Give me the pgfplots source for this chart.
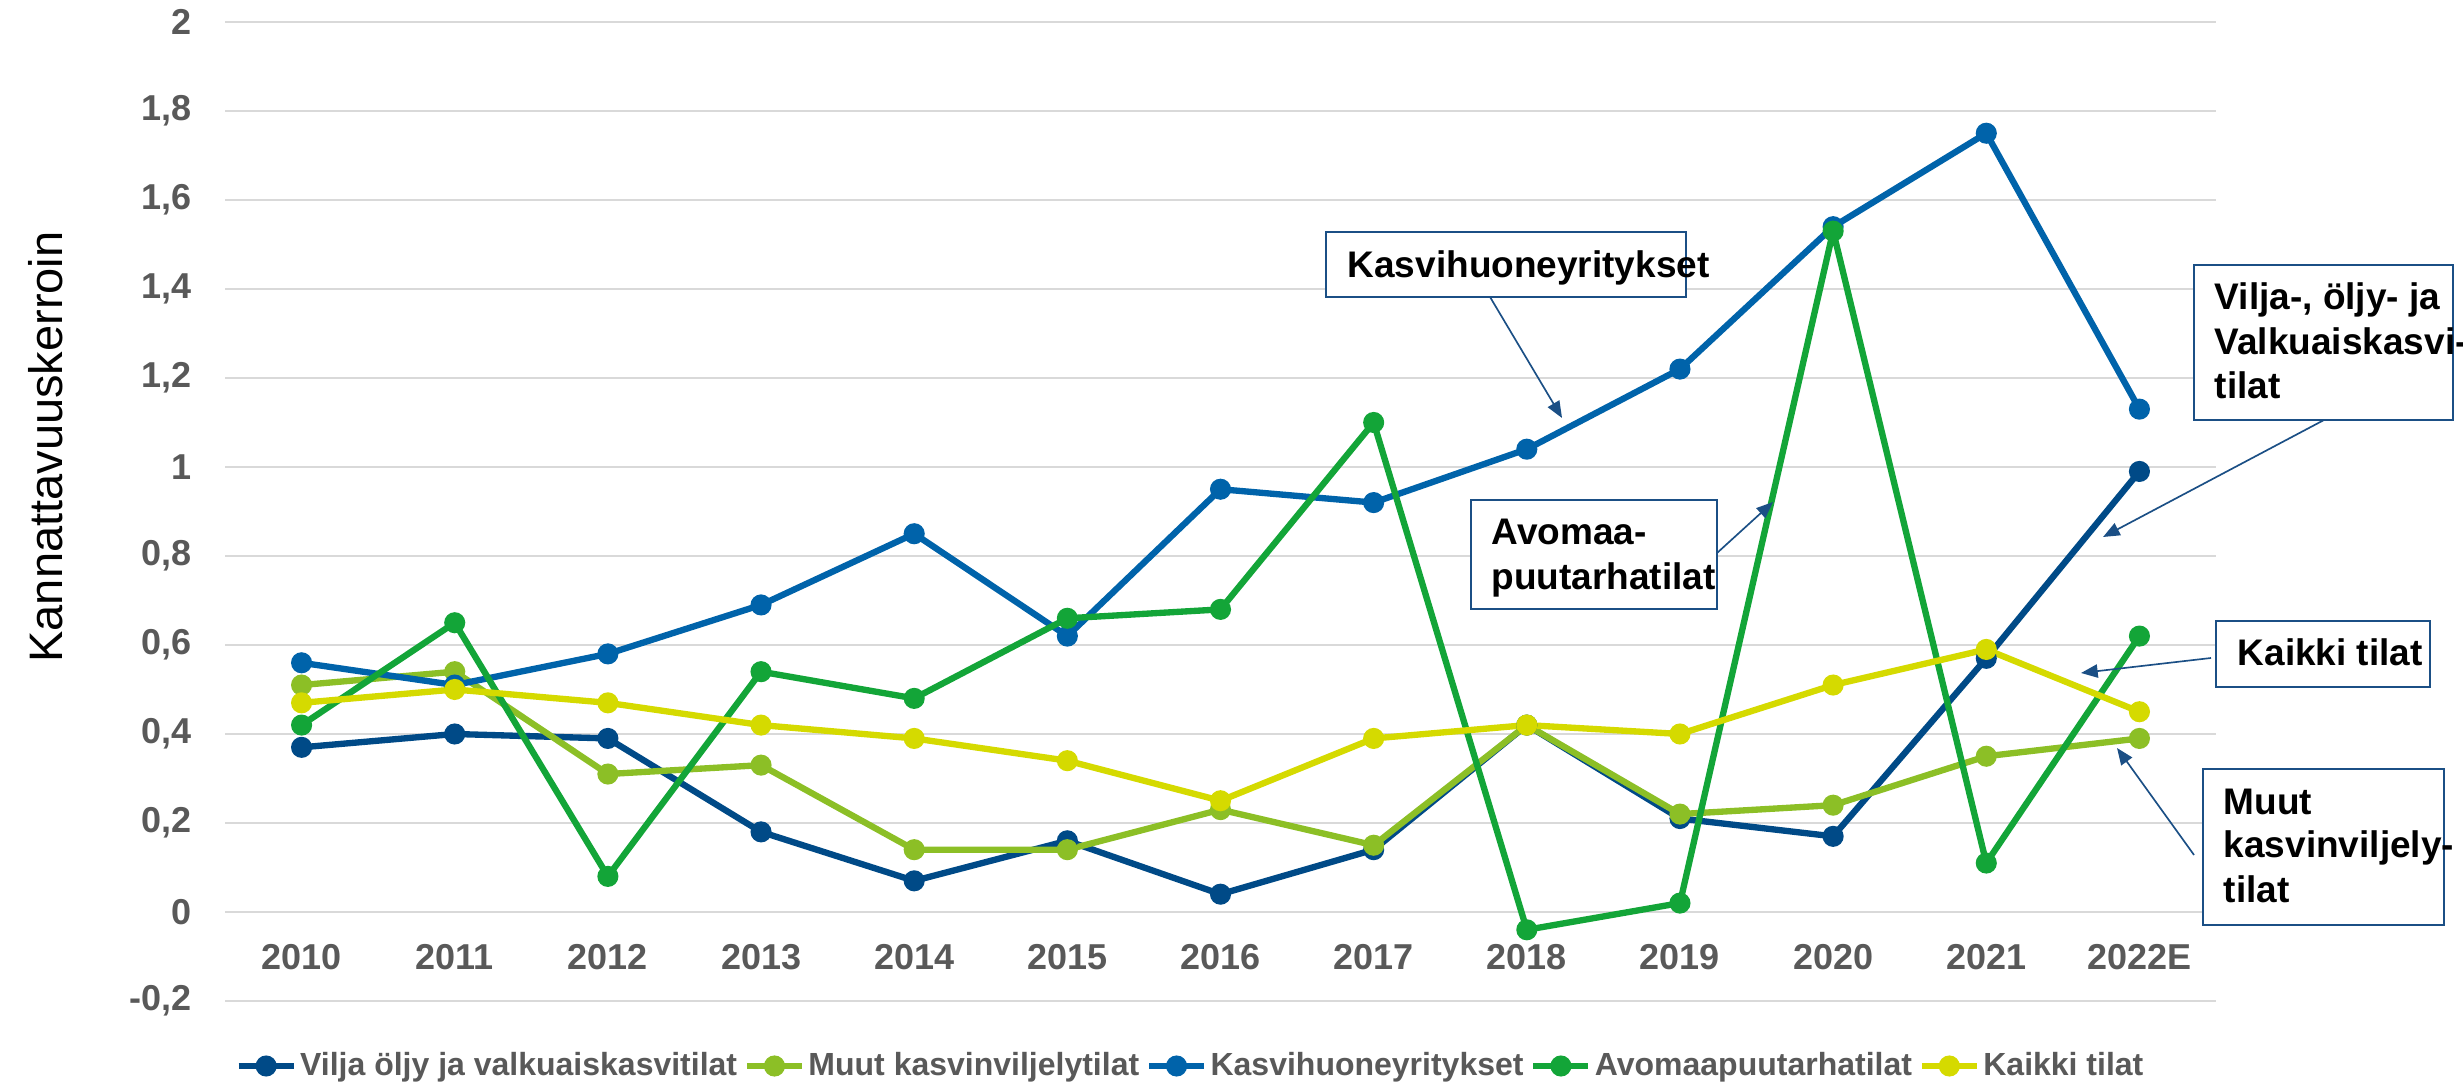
\documentclass[border=0pt]{standalone}
\usepackage{fontspec}
\setmainfont{Liberation Sans}
\usepackage{pgfplots}
\pgfplotsset{compat=1.18}
\usetikzlibrary{arrows.meta}
\definecolor{cVilja}{HTML}{004A87}
\definecolor{cMuut}{HTML}{8CBF26}
\definecolor{cKasvi}{HTML}{0063AA}
\definecolor{cAvo}{HTML}{13A538}
\definecolor{cKaikki}{HTML}{D5DA00}
\definecolor{txtgray}{HTML}{595959}
\definecolor{gridgray}{HTML}{D9D9D9}
\definecolor{boxblue}{HTML}{1B4F85}
\newcommand{\annfont}{\fontsize{11.1}{13.5}\selectfont\bfseries}
\begin{document}
\begin{tikzpicture}
\useasboundingbox (0,0) rectangle (738.9pt,325.8pt);
\begin{axis}[
  at={(67.5pt,25.5pt)}, anchor=south west,
  scale only axis, width=597.3pt, height=293.7pt,
  xmin=-0.5, xmax=12.5, ymin=-0.2, ymax=2,
  xtick={0,1,2,3,4,5,6,7,8,9,10,11,12},
  xticklabels={2010,2011,2012,2013,2014,2015,2016,2017,2018,2019,2020,2021,2022E},
  ytick={-0.2,0,0.2,0.4,0.6,0.8,1,1.2,1.4,1.6,1.8,2},
  yticklabels={{-0,2},{0},{0,2},{0,4},{0,6},{0,8},{1},{1,2},{1,4},{1,6},{1,8},{2}},
  ymajorgrids, grid style={gridgray, line width=0.6pt},
  axis line style={draw=none},
  major tick length=0pt,
  tick label style={font=\fontsize{10.8}{12}\selectfont\bfseries, text=txtgray},
  yticklabel style={anchor=east, inner sep=0pt, xshift=-9.9pt},
  xticklabel style={anchor=center, inner sep=0pt, yshift=13.2pt},
  legend style={at={(0.4844,-0.0664)}, anchor=center, draw=none, fill=none,
    legend columns=5, font=\fontsize{9.6}{11}\selectfont\bfseries, text=txtgray,
    nodes={inner sep=0pt},
    /tikz/every even column/.append style={column sep=2pt},
    /tikz/every odd column/.append style={column sep=1pt}},
  legend image code/.code={\draw[mark repeat=2,mark phase=2,#1] plot coordinates {(0pt,0pt) (8.25pt,0pt) (16.5pt,0pt)};},
  every axis plot/.append style={line width=1.9pt, mark=*, mark size=2.2pt, mark options={solid, line width=0.3pt}},
]
\addplot[cVilja, mark options={fill=cVilja}] coordinates {
(0,0.37) (1,0.40) (2,0.39) (3,0.18) (4,0.07) (5,0.16) (6,0.04) (7,0.14) (8,0.42) (9,0.21) (10,0.17) (11,0.57) (12,0.99)};
\addlegendentry{Vilja öljy ja valkuaiskasvitilat}
\addplot[cMuut, mark options={fill=cMuut}] coordinates {
(0,0.51) (1,0.54) (2,0.31) (3,0.33) (4,0.14) (5,0.14) (6,0.23) (7,0.15) (8,0.42) (9,0.22) (10,0.24) (11,0.35) (12,0.39)};
\addlegendentry{Muut kasvinviljelytilat}
\addplot[cKasvi, mark options={fill=cKasvi}] coordinates {
(0,0.56) (1,0.51) (2,0.58) (3,0.69) (4,0.85) (5,0.62) (6,0.95) (7,0.92) (8,1.04) (9,1.22) (10,1.54) (11,1.75) (12,1.13)};
\addlegendentry{Kasvihuoneyritykset}
\addplot[cAvo, mark options={fill=cAvo}] coordinates {
(0,0.42) (1,0.65) (2,0.08) (3,0.54) (4,0.48) (5,0.66) (6,0.68) (7,1.10) (8,-0.04) (9,0.02) (10,1.53) (11,0.11) (12,0.62)};
\addlegendentry{Avomaapuutarhatilat}
\addplot[cKaikki, mark options={fill=cKaikki}] coordinates {
(0,0.47) (1,0.50) (2,0.47) (3,0.42) (4,0.39) (5,0.34) (6,0.25) (7,0.39) (8,0.42) (9,0.40) (10,0.51) (11,0.59) (12,0.45)};
\addlegendentry{Kaikki tilat}
\end{axis}
\begin{scope}[shift={(0pt,325.8pt)}, x=0.3pt, y=-0.3pt]
  \node[rotate=90, font=\fontsize{14.1}{16}\selectfont] at (46,447) {Kannattavuuskerroin};
  % Kasvihuoneyritykset
  \draw[boxblue, line width=0.75pt, fill=white] (1326,232) rectangle (1686,297);
  \node[anchor=base west, inner sep=0pt, font=\annfont] at (1347,278) {Kasvihuoneyritykset};
  \draw[boxblue, line width=0.5pt, -{Triangle[length=5pt,width=4pt]}] (1490,297) -- (1562,418);
  % Avomaa
  \draw[boxblue, line width=0.75pt, fill=white] (1471,500) rectangle (1717,609);
  \node[anchor=base west, inner sep=0pt, font=\annfont] at (1491,545) {Avomaa-};
  \node[anchor=base west, inner sep=0pt, font=\annfont] at (1491,590) {puutarhatilat};
  \draw[boxblue, line width=0.5pt, -{Triangle[length=5pt,width=4pt]}] (1717,553) -- (1773,502);
  % Vilja
  \draw[boxblue, line width=0.75pt, fill=white] (2194,265) rectangle (2453,420);
  \node[anchor=base west, inner sep=0pt, font=\annfont] at (2214,310) {Vilja-, öljy- ja};
  \node[anchor=base west, inner sep=0pt, font=\annfont] at (2214,355) {Valkuaiskasvi-};
  \node[anchor=base west, inner sep=0pt, font=\annfont] at (2214,399) {tilat};
  \draw[boxblue, line width=0.5pt, -{Triangle[length=5pt,width=4pt]}] (2324,420) -- (2103,537);
  % Kaikki
  \draw[boxblue, line width=0.75pt, fill=white] (2216,621) rectangle (2430,687);
  \node[anchor=base west, inner sep=0pt, font=\annfont] at (2237,666) {Kaikki tilat};
  \draw[boxblue, line width=0.5pt, -{Triangle[length=5pt,width=4pt]}] (2211,658) -- (2081,673);
  % Muut
  \draw[boxblue, line width=0.75pt, fill=white] (2203,769) rectangle (2444,925);
  \node[anchor=base west, inner sep=0pt, font=\annfont] at (2223,815) {Muut};
  \node[anchor=base west, inner sep=0pt, font=\annfont] at (2223,858) {kasvinviljely-};
  \node[anchor=base west, inner sep=0pt, font=\annfont] at (2223,903) {tilat};
  \draw[boxblue, line width=0.5pt, -{Triangle[length=5pt,width=4pt]}] (2194,855) -- (2117,748);
\end{scope}
\end{tikzpicture}
\end{document}
